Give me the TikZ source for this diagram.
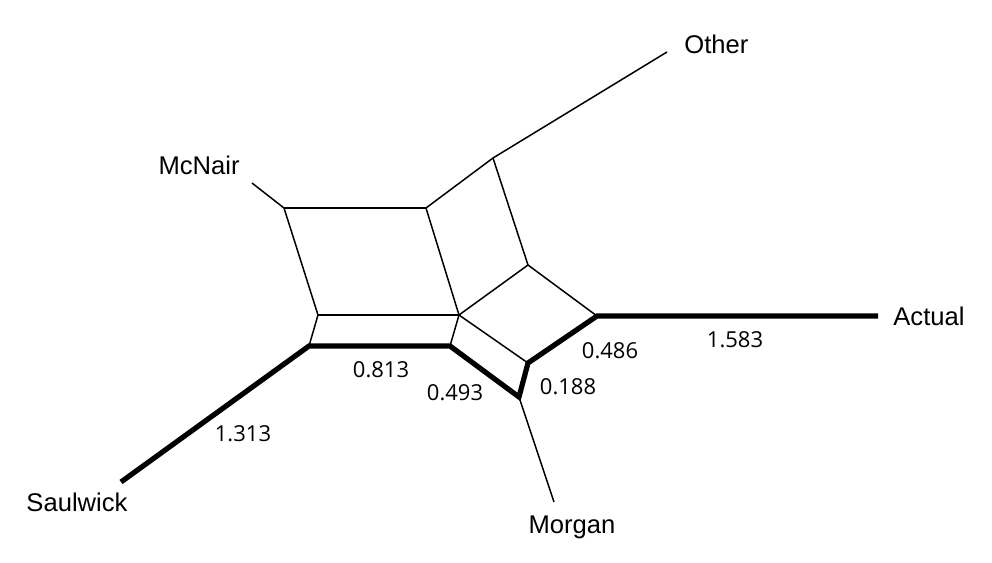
\documentclass[tikz,border=0pt]{standalone}
\usepackage{fontspec}
\setmainfont{Liberation Sans}
\newfontfamily\weightfont{Open Sans}

\tikzset{>=latex}

\begin{document}
\begin{tikzpicture}[x=0.5pt, y=-0.5pt]

	\tikzstyle{edge_thin}  = [line width=0.75pt, line join=miter]
	\tikzstyle{edge_thick} = [line width=2.6pt, line join=miter]
	\tikzstyle{taxon}  = [inner sep=0pt, font=\fontsize{12.8}{14}\selectfont]
	\tikzstyle{weight} = [inner sep=0pt, font=\weightfont\fontsize{11}{13}\selectfont]

	\useasboundingbox (0,0) rectangle (992,563);

%------------------------------------------------------------
	\coordinate (o_end)  at (667,52);
	\coordinate (o_in)   at (493,158);
	\coordinate (mc_end) at (252,183);
	\coordinate (mc_in)  at (284,208);
	\coordinate (tm)     at (426,208);
	\coordinate (ru)     at (528,265);
	\coordinate (c)      at (459,315);
	\coordinate (lm)     at (318,315);
	\coordinate (a_in)   at (597,316);
	\coordinate (a_end)  at (878,316);
	\coordinate (lb)     at (309,346);
	\coordinate (mb)     at (450,346);
	\coordinate (lr)     at (528,363);
	\coordinate (mo_in)  at (519,397);
	\coordinate (mo_end) at (554,502);
	\coordinate (sw_end) at (121,482);

%------------------------------------------------------------
	\node[taxon, anchor=west] (other)    at (684,44)  {Other};
	\node[taxon, anchor=east] (mcnair)   at (240,165) {McNair};
	\node[taxon, anchor=west] (actual)   at (893,316) {Actual};
	\node[taxon]              (saulwick) at (77,502)  {Saulwick};
	\node[taxon]              (morgan)   at (572,527) {Morgan};

%------------------------------------------------------------
	\path[edge_thin] (o_end)  edge (o_in);
	\path[edge_thin] (o_in)   edge (tm);
	\path[edge_thin] (o_in)   edge (ru);
	\path[edge_thin] (mc_end) edge (mc_in);
	\path[edge_thin] (mc_in)  edge (tm);
	\path[edge_thin] (mc_in)  edge (lm);
	\path[edge_thin] (tm)     edge (c);
	\path[edge_thin] (ru)     edge (c);
	\path[edge_thin] (ru)     edge (a_in);
	\path[edge_thin] (lm)     edge (c);
	\path[edge_thin] (lm)     edge (lb);
	\path[edge_thin] (c)      edge (mb);
	\path[edge_thin] (c)      edge (lr);
	\path[edge_thin] (mo_in)  edge (mo_end);

%------------------------------------------------------------
	\draw[edge_thick] (sw_end) -- (lb) -- (mb) -- (mo_in) -- (lr) -- (a_in) -- (a_end);

	\node[weight] (w_sw) at (243,434) {1.313};
	\node[weight] (w_lb) at (381,370) {0.813};
	\node[weight] (w_mb) at (455,393) {0.493};
	\node[weight] (w_mo) at (568,387) {0.188};
	\node[weight] (w_lr) at (610,351) {0.486};
	\node[weight] (w_a)  at (735,340) {1.583};

\end{tikzpicture}
\end{document}
